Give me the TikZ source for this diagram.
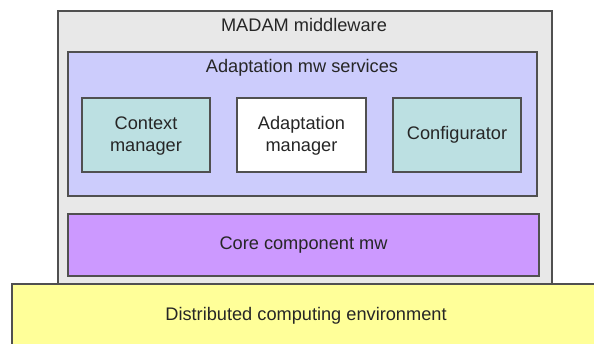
\documentclass[tikz,border=0pt]{standalone}
\usepackage{fontspec}
\setmainfont{Liberation Sans}
\definecolor{mwgray}{HTML}{E8E8E8}
\definecolor{svcblue}{HTML}{CCCCFC}
\definecolor{mgrteal}{HTML}{BCE0E2}
\definecolor{corepurple}{HTML}{CC99FF}
\definecolor{envyellow}{HTML}{FFFF99}
\definecolor{edgegray}{HTML}{505050}
\tikzset{
  layer/.style={draw=edgegray, line width=1.3pt},
  label/.style={text=black!85, font=\fontsize{18.2}{21.5}\selectfont, align=center},
}

\begin{document}
\begin{tikzpicture}[x=1pt, y=-1pt]
		%%%%% START %%%%%
		\useasboundingbox (0, 0) rectangle (594, 343);
		\clip (0, 0) rectangle (594, 343);
		
		% middleware frame
		\draw[layer, fill=mwgray, line width=1.6pt] (58, 11) rectangle (552, 290);
		\node[label] (madam) at (304, 25) {MADAM middleware};
		
		% adaptation services
		\draw[layer, fill=svcblue] (68, 52) rectangle (537, 196);
		\node[label] (services) at (302, 68) {Adaptation mw services};
		
		\draw[layer, fill=mgrteal] (82, 98) rectangle (210, 172);
		\node[label] (context) at (146, 136) {Context\\manager};
		\draw[layer, fill=white] (237, 98) rectangle (366, 172);
		\node[label] (adaptation) at (301.5, 136) {Adaptation\\manager};
		\draw[layer, fill=mgrteal] (393, 98) rectangle (521, 172);
		\node[label] (config) at (457, 135) {Configurator};
		
		% core
		\draw[layer, fill=corepurple] (68, 214) rectangle (539, 276);
		\node[label] (core) at (303.5, 245) {Core component mw};
		
		% environment
		\draw[layer, fill=envyellow, line width=1.6pt] (12, 284) rectangle (610, 360);
		\node[label] (env) at (306, 316) {Distributed computing environment};
		%%%%% END %%%%%
	\end{tikzpicture}
\end{document}
